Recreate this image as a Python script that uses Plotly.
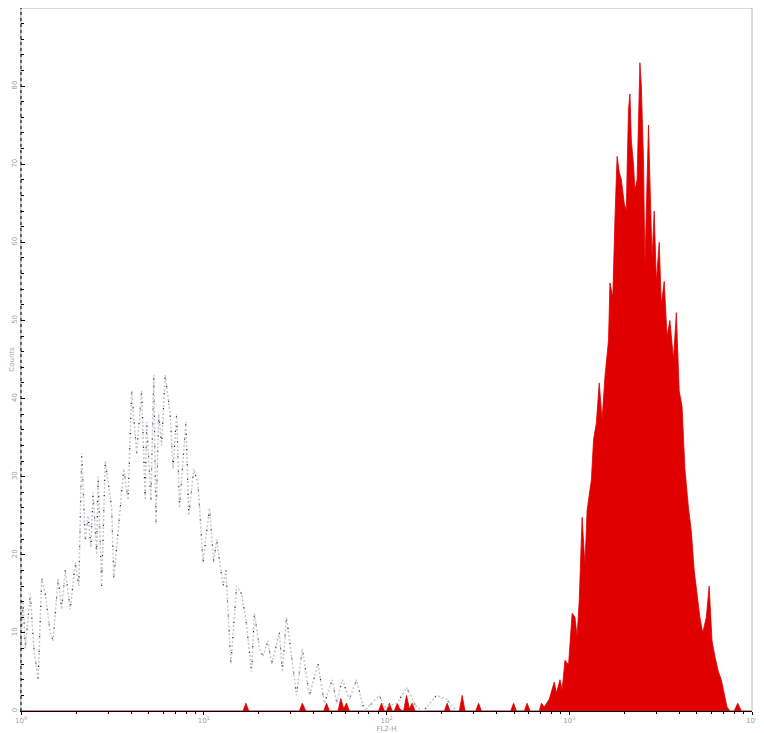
import plotly.graph_objects as go

# ---- data (channel 0..1023 over 4 log decades, counts) ----
iso_channel = [0, 3, 6, 13, 18, 24, 29, 34, 41, 45, 52, 57, 62, 69, 76, 81, 85, 90, 94, 98,
               101, 106, 108, 113, 118, 127, 130, 140, 144, 150, 155, 162, 169, 174, 176, 182,
               186, 189, 193, 197, 202, 209, 213, 218, 222, 231, 235, 242, 248, 255, 264, 270,
               274, 283, 287, 294, 302, 309, 316, 323, 327, 334, 339, 346, 351, 362, 366, 372,
               386, 394, 404, 416, 425, 436, 442, 450, 460, 470, 481, 502, 509, 527, 540, 554,
               564, 582, 596, 610]
iso_counts = [9, 14, 8, 15, 8, 4, 17, 15, 10, 9, 17, 13, 18, 13, 19, 16, 33, 22, 25, 21,
              28, 20, 30, 16, 32, 26, 17, 27, 31, 27, 41, 33, 41, 27, 37, 27,
              43, 24, 38, 34, 43, 38, 31, 38, 26, 37, 25, 31, 29, 19, 26, 19,
              22, 16, 18, 6, 16, 15, 11, 5, 12.5, 8, 7, 9, 6, 10, 5, 12,
              2, 8, 2, 6, 1, 4, 1, 4, 1.5, 4, 0, 2, 0.5, 1, 3, 0.5,
              0, 2, 1.5, 0]

stain_channel = [0, 311, 315, 319, 390, 394, 399, 424, 428, 432, 444, 448, 452, 456, 460,
                 501, 505, 509, 512, 516, 520, 523, 527, 531, 536, 540, 544, 548, 552,
                 593, 597, 601, 614, 618, 622, 637, 641, 645, 686, 690, 694, 705, 709, 713,
                 726, 729, 733, 737, 740, 747, 750, 755, 758, 762, 767, 772, 776, 779, 782,
                 786, 790, 793, 799, 802, 806, 810, 814, 818, 823, 825, 829, 832, 834, 835,
                 838, 841, 845, 848, 849, 851, 853, 855, 858, 860, 863, 865, 867, 869, 872,
                 874, 877, 879, 881, 884, 887, 890, 894, 897, 901, 905, 909, 914, 918, 922,
                 926, 930, 935, 939, 943, 947, 951, 955, 960, 964, 968, 972, 977, 981, 985,
                 989, 993, 999, 1004, 1009, 1023]
stain_counts = [0, 0, 1, 0, 0, 1, 0, 0, 1, 0, 0, 1.6, 0.3, 1, 0,
                0, 1, 0, 0, 1, 0, 0, 1, 0.2, 0, 2, 0.3, 1, 0,
                0, 1, 0, 0, 2, 0, 0, 1, 0, 0, 1, 0, 0, 1, 0,
                0, 1, 0.5, 1, 1.5, 3.7, 2.3, 4, 2.7, 6.5, 5.9, 12.5, 12, 9.5, 14.2,
                24.8, 18.7, 25.7, 29.6, 34.7, 36.9, 42, 37.3, 42.8, 47.5, 54.8, 53, 63, 68, 71,
                69, 68, 65, 64, 69, 77, 79, 73, 70, 66.7, 68, 77, 83, 80, 70.5,
                57, 67.6, 75, 68, 58, 64, 55, 60, 52, 55, 48, 50, 45, 51, 41,
                39, 31, 26, 23, 18, 15, 12, 10, 12, 16, 9, 7, 5, 4, 2,
                0.5, 0, 0, 1, 0, 0]

decade_vals = [1, 10, 100, 1000, 10000]
decade_text = ["10<sup>0</sup>", "10<sup>1</sup>", "10<sup>2</sup>", "10<sup>3</sup>", "10<sup>4</sup>"]
count_ticks = [0, 10, 20, 30, 40, 50, 60, 70, 80, 90]

iso_x = [10 ** (c / 256) for c in iso_channel]
stain_x = [10 ** (c / 256) for c in stain_channel]
minor_vals = [m * d for d in decade_vals[:-1] for m in range(2, 10)]

fig = go.Figure()
fig.add_trace(go.Scatter(x=stain_x, y=stain_counts, mode="lines", fill="tozeroy",
                         fillcolor="#e00000", line=dict(color="#e00000", width=0.8),
                         hoverinfo="skip", showlegend=False))
fig.add_trace(go.Scatter(x=iso_x, y=iso_counts, mode="lines",
                         line=dict(color="#c8c8c8", width=1.5, dash="2px,2px"),
                         hoverinfo="skip", showlegend=False))
fig.add_trace(go.Scatter(x=iso_x, y=iso_counts, mode="lines",
                         line=dict(color="#1a1a50", width=1.1, dash="1px,14px"),
                         hoverinfo="skip", showlegend=False))

tickfont = dict(family="DejaVu Sans", size=7, color="#a0a0a0")
titlefont = dict(family="DejaVu Sans", size=7, color="#a0a0a0")
fig.update_xaxes(type="log", range=[0, 4], tickvals=decade_vals, ticktext=decade_text,
                 tickfont=tickfont, ticks="outside", ticklen=3, tickcolor="#000",
                 showline=True, linecolor="#000", linewidth=1, showgrid=False, zeroline=False,
                 minor=dict(tickvals=minor_vals, ticks="outside", ticklen=2, tickcolor="#000"),
                 title=dict(text="FL2-H", font=titlefont, standoff=0),
                 automargin=False)
fig.update_yaxes(range=[0, 90], tickvals=count_ticks, tickfont=tickfont, tickangle=-90,
                 ticks="inside", ticklen=4, tickcolor="#000", showgrid=False, zeroline=False,
                 showline=True, linecolor="#c0c0c0", linewidth=1,
                 minor=dict(dtick=2, ticks="inside", ticklen=3, tickcolor="#000"),
                 title=dict(text="Counts", font=titlefont, standoff=0),
                 automargin=False)
fig.update_layout(
    width=756, height=725,
    margin=dict(l=13, r=12, t=0, b=22, pad=0),
    plot_bgcolor="white", paper_bgcolor="white",
    shapes=[
        dict(type="rect", xref="paper", yref="paper", x0=0, x1=1, y0=0, y1=1,
             line=dict(color="#b8b8b8", width=1), layer="below"),
        dict(type="line", xref="paper", yref="paper", x0=0, x1=0, y0=0, y1=1,
             line=dict(color="#000", width=1, dash="dot"), layer="above"),
    ],
)
fig.write_html("out.html", config={"displayModeBar": False})
